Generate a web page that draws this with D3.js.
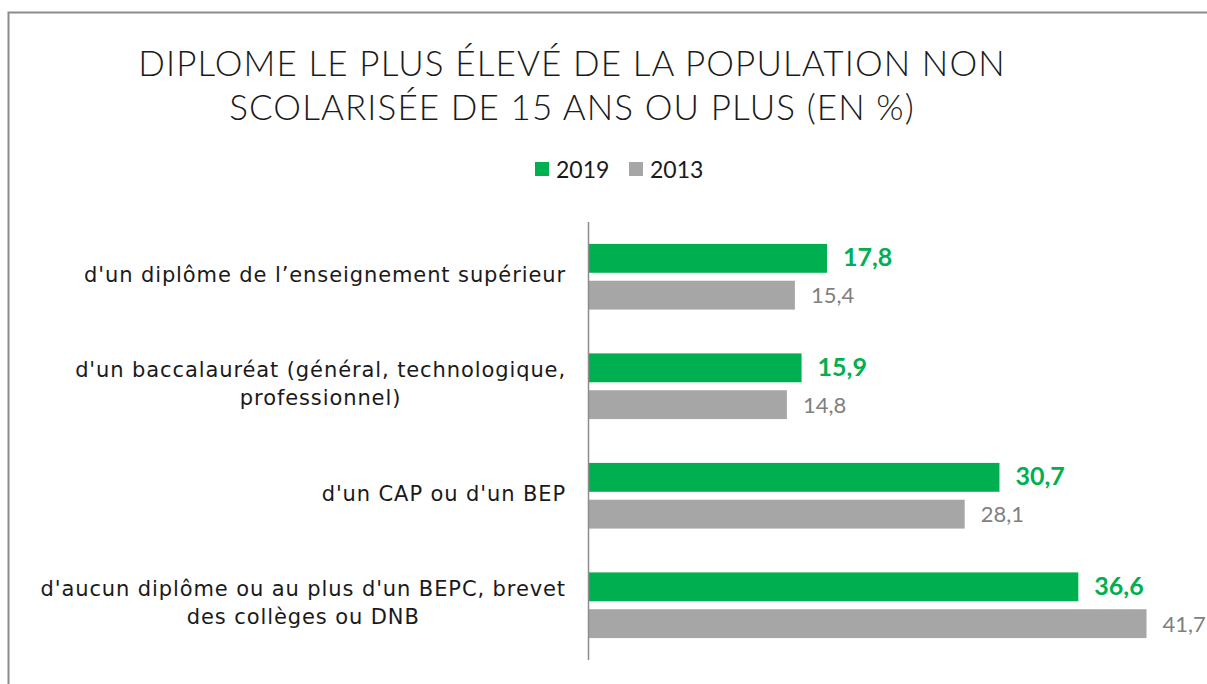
<!DOCTYPE html>
<html>
<head>
<meta charset="utf-8">
<script src="https://cdn.jsdelivr.net/npm/d3@7"></script>
<style>
  html, body { margin: 0; padding: 0; background: #fff; }
  svg { display: block; }
</style>
</head>
<body>
<svg id="chart" width="1207" height="684"></svg>
<script>
// Highest diploma of the non-schooled population aged 15+ (%)
const categories = [
  ["d'un diplôme de l\u2019enseignement supérieur"],
  ["d'un baccalauréat (général, technologique,", "professionnel)"],
  ["d'un CAP ou d'un BEP"],
  ["d'aucun diplôme ou au plus d'un BEPC, brevet", "des collèges ou DNB"]
];
const seriesNames = ["2019", "2013"];
const values2019 = [17.8, 15.9, 30.7, 36.6];
const values2013 = [15.4, 14.8, 28.1, 41.7];
const titleLines = ["DIPLOME LE PLUS ÉLEVÉ DE LA POPULATION NON", "SCOLARISÉE DE 15 ANS OU PLUS (EN %)"];

const colors = { "2019": "#00B050", "2013": "#A6A6A6" };
const labelColors = { "2019": "#00B050", "2013": "#808080" };
const fmt = v => d3.format(".1f")(v).replace(".", ",");

const svg = d3.select("#chart");
const W = 1207, H = 684;

// frame (only top and left edges fall inside the view)
svg.append("path")
  .attr("d", `M8.5,${H} V12.5 H${W}`)
  .attr("fill", "none").attr("stroke", "#8c8c8c").attr("stroke-width", 2);

// title
svg.append("g").selectAll("text").data(titleLines).join("text")
  .attr("x", 572).attr("y", (d, i) => 76 + i * 44)
  .attr("text-anchor", "middle")
  .attr("font-family", "'Lato', 'Open Sans', sans-serif").attr("font-weight", 300)
  .attr("font-size", 35).attr("letter-spacing", 1.1).attr("fill", "#1a1a1a")
  .text(d => d);

// legend
const legend = svg.append("g").attr("font-family", "'Lato', sans-serif").attr("font-size", 23);
const legendItems = [{ k: "2019", x: 535 }, { k: "2013", x: 629 }];
legendItems.forEach(it => {
  legend.append("rect").attr("x", it.x).attr("y", 162).attr("width", 14).attr("height", 14).attr("fill", colors[it.k]);
  legend.append("text").attr("x", it.x + 21).attr("y", 177.5).attr("fill", "#1a1a1a").text(it.k);
});

// scales
const x0 = 589;
const x = d3.scaleLinear().domain([0, 41.7]).range([x0, x0 + 41.7 * 13.37]);
const yOuter = d3.scaleBand().domain(d3.range(categories.length)).range([222, 660]).paddingInner(0).paddingOuter(0);
const yInner = d3.scaleBand().domain(seriesNames).range([0, yOuter.bandwidth()]).paddingInner(0.216).paddingOuter(0.595);

const data = categories.map((c, i) => ({
  i, lines: c,
  vals: [{ k: "2019", v: values2019[i] }, { k: "2013", v: values2013[i] }]
}));

const groups = svg.append("g").selectAll("g").data(data).join("g")
  .attr("transform", d => `translate(0,${yOuter(d.i)})`);

groups.selectAll("rect").data(d => d.vals).join("rect")
  .attr("x", x(0)).attr("y", d => yInner(d.k))
  .attr("width", d => x(d.v) - x(0)).attr("height", yInner.bandwidth())
  .attr("fill", d => colors[d.k]);

groups.selectAll("text.val").data(d => d.vals).join("text")
  .attr("class", "val")
  .attr("x", d => x(d.v) + 16).attr("y", d => yInner(d.k) + yInner.bandwidth() / 2 + 8)
  .attr("font-family", "'Lato', sans-serif")
  .attr("font-size", d => d.k === "2019" ? 25 : 22)
  .attr("font-weight", d => d.k === "2019" ? 700 : 400)
  .attr("fill", d => labelColors[d.k])
  .text(d => fmt(d.v));

// category labels: block right-aligned to the axis, lines centred within block
groups.each(function (d) {
  const g = d3.select(this);
  const t = g.append("text")
    .attr("font-family", "'DejaVu Sans', sans-serif").attr("font-size", 21)
    .attr("letter-spacing", 0.9).attr("fill", "#1a1a1a")
    .attr("text-anchor", "middle");
  const lh = 28;
  const cy = yOuter.bandwidth() / 2 - 2;
  const tops = cy - (d.lines.length - 1) * lh / 2;
  const spans = d.lines.map((ln, j) => t.append("tspan").attr("y", tops + j * lh + 7).text(ln));
  let maxW = 0;
  spans.forEach(s => { maxW = Math.max(maxW, s.node().getComputedTextLength()); });
  const right = 566;
  spans.forEach(s => s.attr("x", right - maxW / 2));
});

// vertical axis line
svg.append("line").attr("x1", x0 - 0.5).attr("x2", x0 - 0.5).attr("y1", 222).attr("y2", 660)
  .attr("stroke", "#8c8c8c").attr("stroke-width", 1.5);
</script>
</body>
</html>
